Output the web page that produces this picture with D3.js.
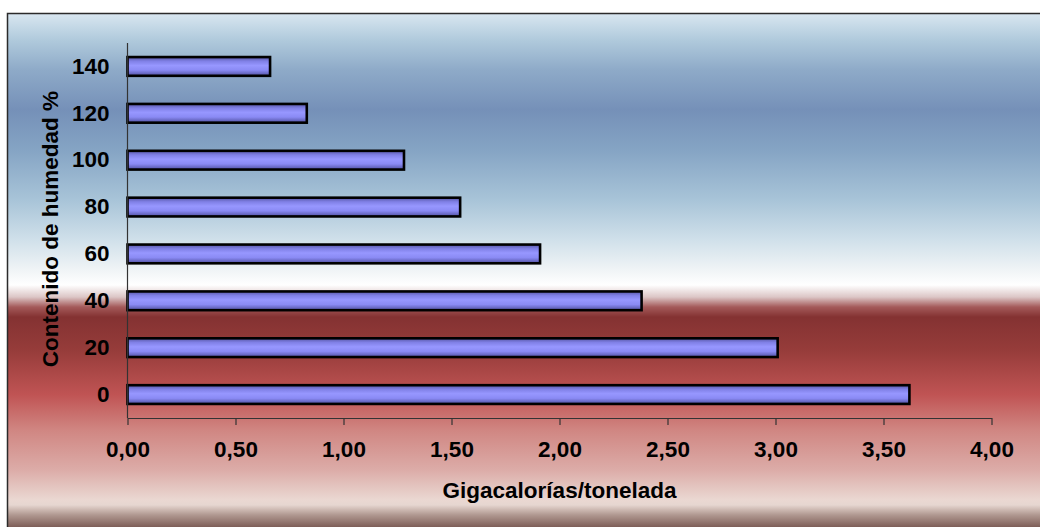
<!DOCTYPE html>
<html>
<head>
<meta charset="utf-8">
<script src="https://cdn.jsdelivr.net/npm/d3@7"></script>
<style>
  html, body { margin: 0; padding: 0; background: #ffffff; }
  svg { display: block; }
  text { font-family: "Liberation Sans", Arial, sans-serif; font-weight: bold; fill: #000; }
</style>
</head>
<body>
<svg id="chart" width="1040" height="527"></svg>
<script>
// Moisture content (%) and the heating value it leaves per tonne
const categories = ["0", "20", "40", "60", "80", "100", "120", "140"];
const values = [3.62, 3.01, 2.38, 1.91, 1.54, 1.28, 0.83, 0.66];
const xTicks = [0, 0.5, 1, 1.5, 2, 2.5, 3, 3.5, 4];
const xTitle = "Gigacalorías/tonelada";
const yTitle = "Contenido de humedad %";

const W = 1040, H = 527;
const FONT = 22.5;
const frame = { x: 7.5, y: 13.5 };
const plot = { left: 127.5, right: 991.5, top: 43, bottom: 418 };

const svg = d3.select("#chart");
const defs = svg.append("defs");

// Backdrop: blue sky on top, a white band, then deep red fading to pink
const bg = defs.append("linearGradient")
  .attr("id", "bg").attr("gradientUnits", "userSpaceOnUse")
  .attr("x1", 0).attr("x2", 0).attr("y1", frame.y).attr("y2", H);
const bgStops = [
  [14, "#d8e6f0"], [40, "#b0cadc"], [70, "#8eaac8"], [110, "#7590b8"],
  [150, "#85a4c4"], [200, "#a8c4d8"], [240, "#d0e0ea"], [270, "#f0f4f6"],
  [285, "#ffffff"], [297, "#dcc6c6"], [307, "#a45a5a"], [317, "#843232"],
  [350, "#963c3a"], [395, "#c05454"], [430, "#d08682"], [470, "#dcaca8"],
  [500, "#ead8d2"], [505, "#e6d6d0"], [515, "#b09890"], [527, "#7e5e58"]
];
bg.selectAll("stop").data(bgStops).join("stop")
  .attr("offset", d => (d[0] - frame.y) / (H - frame.y))
  .attr("stop-color", d => d[1]);

// Bar fill: shaded at the edges, light lavender in the middle
const barGrad = defs.append("linearGradient")
  .attr("id", "bar").attr("x1", 0).attr("x2", 0).attr("y1", 0).attr("y2", 1);
[[0, "#5656a4"], [0.22, "#8080e6"], [0.45, "#9797ff"], [0.7, "#8a8af4"], [1, "#5050a0"]]
  .forEach(s => barGrad.append("stop").attr("offset", s[0]).attr("stop-color", s[1]));

svg.append("rect")
  .attr("x", frame.x).attr("y", frame.y)
  .attr("width", W + 10).attr("height", H + 10)
  .attr("fill", "url(#bg)")
  .attr("stroke", "#2b2b2b").attr("stroke-width", 1.5);

const x = d3.scaleLinear().domain([0, 4]).range([plot.left, plot.right]);
const y = d3.scaleBand().domain(categories.slice().reverse())
  .range([plot.top, plot.bottom]).paddingInner(0.6).paddingOuter(0.3);

// Bars
svg.append("g").selectAll("rect")
  .data(categories.map((c, i) => ({ c, v: values[i] })))
  .join("rect")
  .attr("x", x(0))
  .attr("y", d => y(d.c))
  .attr("width", d => x(d.v) - x(0))
  .attr("height", y.bandwidth())
  .attr("fill", "url(#bar)")
  .attr("stroke", "#000").attr("stroke-width", 2.6);

// X axis
const xAxis = svg.append("g")
  .attr("transform", `translate(0,${plot.bottom})`)
  .call(d3.axisBottom(x).tickValues(xTicks).tickSize(7).tickSizeOuter(0)
    .tickPadding(16).tickFormat(d => d3.format(".2f")(d).replace(".", ",")));
xAxis.select(".domain").attr("stroke", "#333").attr("stroke-width", 1.2);
xAxis.selectAll(".tick line").attr("stroke", "#333").attr("stroke-width", 1.2);
xAxis.selectAll(".tick text").attr("font-size", FONT).attr("fill", "#000")
  .attr("font-family", "Liberation Sans, Arial, sans-serif").attr("font-weight", "bold");

// Y axis
const yAxis = svg.append("g")
  .attr("transform", `translate(${plot.left},0)`)
  .call(d3.axisLeft(y).tickSize(0).tickPadding(18));
yAxis.select(".domain").attr("stroke", "#333").attr("stroke-width", 1.2)
  .attr("d", `M0,${plot.top}V${plot.bottom}`);
yAxis.selectAll(".tick text").attr("font-size", FONT).attr("fill", "#000")
  .attr("font-family", "Liberation Sans, Arial, sans-serif").attr("font-weight", "bold");

// Axis titles
svg.append("text")
  .attr("x", (plot.left + plot.right) / 2).attr("y", 498)
  .attr("text-anchor", "middle").attr("font-size", FONT)
  .text(xTitle);

svg.append("text")
  .attr("transform", `translate(58,${(90 + 368) / 2}) rotate(-90)`)
  .attr("text-anchor", "middle").attr("font-size", FONT)
  .text(yTitle);
</script>
</body>
</html>
